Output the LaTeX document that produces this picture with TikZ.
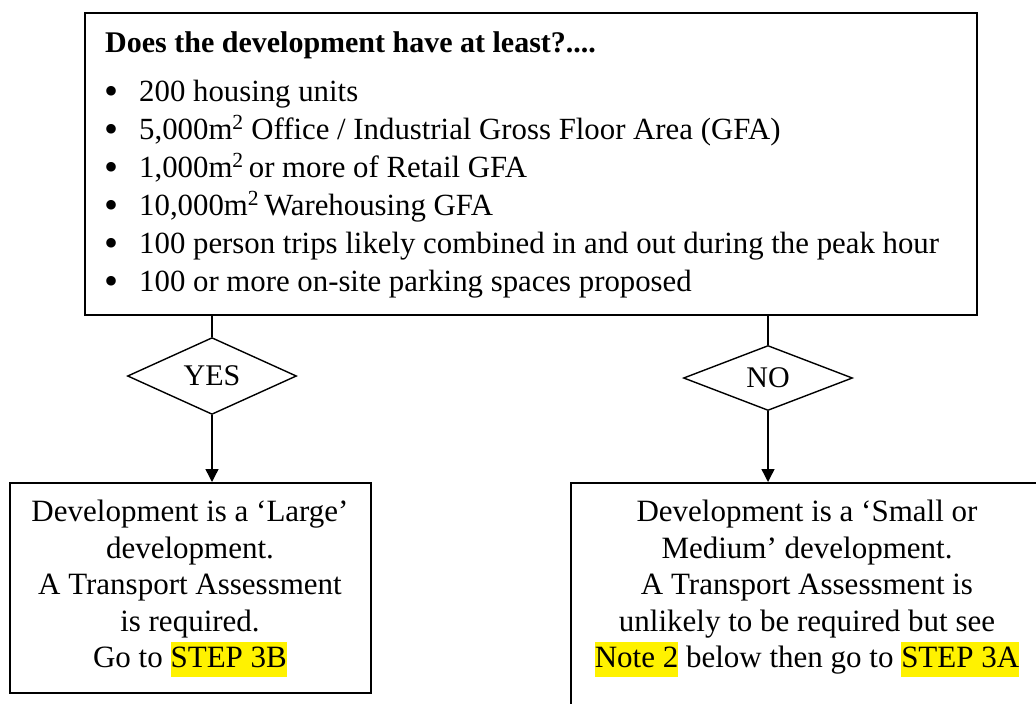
\documentclass[tikz,border=0pt]{standalone}
\usepackage{fontspec}
\setmainfont{Liberation Serif}
\usetikzlibrary{shapes.geometric,arrows.meta}
\newcommand{\hlt}[1]{{\setlength{\fboxsep}{0pt}\colorbox{yellow}{\rule[-9pt]{0pt}{35pt}#1}}}
\newcommand{\bul}{\makebox[34pt][l]{\kern-1pt\raisebox{-3.5pt}{\fontsize{40}{38}\selectfont\textbullet}}}
\tikzset{
  box/.style={draw, line width=1.8pt, inner sep=0pt},
  dia/.style={diamond, draw, line width=1.4pt, inner sep=0pt, minimum width=169pt, minimum height=65pt, font=\fontsize{30}{36}\selectfont},
  link/.style={line width=1.4pt},
  arr/.style={line width=1.4pt, -{Triangle[length=13pt,width=13pt]}},
  btext/.style={inner sep=0pt, align=center, font=\fontsize{31}{36.5}\selectfont}
}
\begin{document}
\begin{tikzpicture}[x=1pt,y=-1pt]
\useasboundingbox (0,0) rectangle (1036,704);
\clip (0,0) rectangle (1036,704);
\node[box, minimum width=892pt, minimum height=302pt, anchor=north west] (top) at (84,12) {};
\node[anchor=north west, inner sep=0pt, align=left, font=\fontsize{30.8}{38}\selectfont] (toptext) at (105,31) {%
{\fontsize{30}{38}\selectfont\textbf{Does the development have at least?....}}\\[11pt]
\bul 200 housing units\\
\bul 5,000m\textsuperscript{2} Office / Industrial Gross Floor Area (GFA)\\
\bul 1,000m\textsuperscript{2}\,or more of Retail GFA\\
\bul 10,000m\textsuperscript{2}\,Warehousing GFA\\
\bul 100 person trips likely combined in and out during the peak hour\\
\bul 100 or more on-site parking spaces proposed};
\node[dia] (yes) at (212,376) {YES};
\node[dia] (no) at (768,378) {NO};
\node[box, minimum width=361pt, minimum height=210pt, anchor=north west] (large) at (9,482) {};
\node[box, minimum width=476pt, minimum height=240pt, anchor=north west] (small) at (570,482) {};
\node[btext, anchor=north] (largetext) at (190,500) {Development is a ‘Large’\\ development.\\ A Transport Assessment\\ is required.\\ Go to \hlt{STEP 3B}};
\node[btext, anchor=north] (smalltext) at (807,500) {Development is a ‘Small or\\ Medium’ development.\\ A Transport Assessment is\\ unlikely to be required but see\\ \hlt{Note 2} below then go to \hlt{STEP 3A}};
\draw[link] (yes.north |- top.south) -- (yes.north);
\draw[link] (no.north |- top.south) -- (no.north);
\draw[arr] (yes.south) -- (yes.south |- large.north);
\draw[arr] (no.south) -- (no.south |- small.north);
\end{tikzpicture}
\end{document}
